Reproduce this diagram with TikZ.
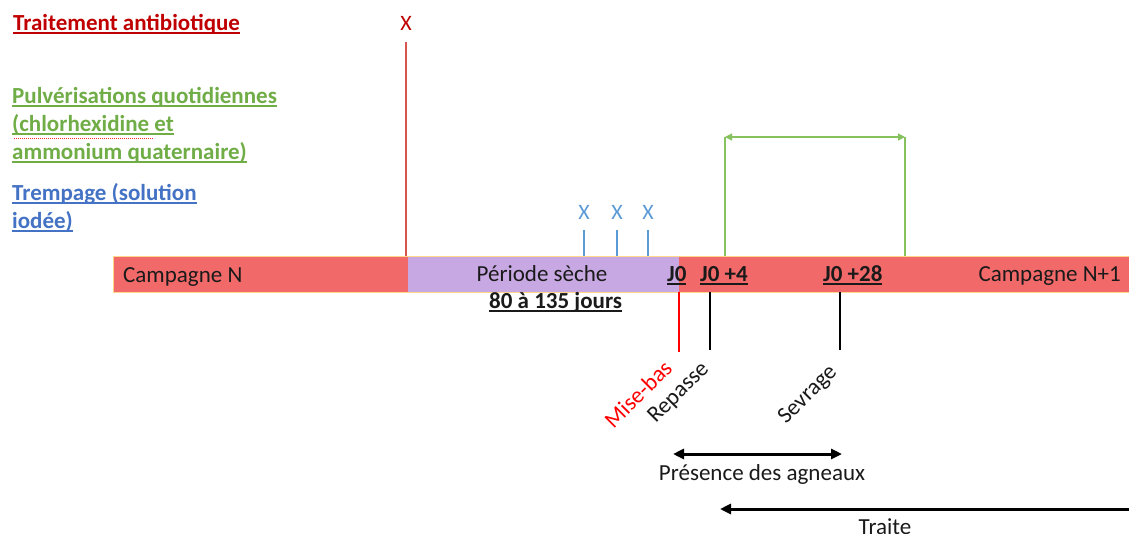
\documentclass[tikz,border=0pt]{standalone}
\usepackage{fontspec}
\setmainfont{Carlito}
\usetikzlibrary{arrows.meta}
\definecolor{barred}{HTML}{F26969}
\definecolor{barpurple}{HTML}{C8A8E2}
\definecolor{baredge}{HTML}{FFD68A}
\definecolor{darkred}{HTML}{C00000}
\definecolor{redline}{HTML}{D9534F}
\definecolor{lgreen}{HTML}{70AD47}
\definecolor{bgreen}{HTML}{86C25E}
\definecolor{lblue}{HTML}{4472C4}
\definecolor{xblue}{HTML}{5B9BD5}
\definecolor{ink}{HTML}{1A1A1A}
\newcommand\myul[1]{\setbox0\hbox{#1}\rlap{\rule[-3.5pt]{\wd0}{1.6pt}}\box0}
\begin{document}
\begin{tikzpicture}[x=1pt,y=-1pt,
  txt/.style={inner sep=0pt, font=\fontsize{23}{28}\selectfont, text=ink},
  legend/.style={inner sep=0pt, font=\fontsize{23}{28}\selectfont\bfseries, align=left},
  bar/.style={draw=baredge, line width=1pt},
  tick/.style={line width=2pt},
  bigarrow/.style={line width=3pt, {Triangle[length=11pt,width=10pt]}-{Triangle[length=11pt,width=10pt]}}
]
\clip (0,0) rectangle (1129,533);
\fill[white] (0,0) rectangle (1129,533);

% bar
\fill[barred] (113,256) rectangle (408,292);
\draw[bar] (113,256) rectangle (408,292);
\fill[barpurple] (408,256) rectangle (679,292);
\draw[bar] (408,256) -- (679,256) (408,292) -- (679,292);
\fill[barred] (679,256) rectangle (1140,292);
\draw[bar] (679,256) -- (1140,256) (679,292) -- (1140,292);

\node[txt, anchor=base west] (campN) at (123,282) {Campagne N};
\node[txt, anchor=base] (seche) at (542,281) {Période sèche};
\node[txt, anchor=base west, font=\fontsize{23}{28}\selectfont\bfseries] (j0) at (667,281) {\myul{J0}};
\node[txt, anchor=base west, font=\fontsize{23}{28}\selectfont\bfseries] (j4) at (700,281) {\myul{J0 +4}};
\node[txt, anchor=base west, font=\fontsize{23}{28}\selectfont\bfseries] (j28) at (823,281) {\myul{J0 +28}};
\node[txt, anchor=base east] (campN1) at (1121,281) {Campagne N+1};
\node[txt, anchor=base west, font=\fontsize{23}{28}\selectfont\bfseries] (jours) at (489,308) {\myul{80 à 135 jours}};

% legend
\node[legend, anchor=base west, text=darkred] (lab) at (13,30) {\myul{Traitement antibiotique}};
\node[legend, anchor=base west, text=lgreen] (lg1) at (12,103) {\myul{Pulvérisations quotidiennes}};
\node[legend, anchor=base west, text=lgreen] (lg2) at (12,131) {\myul{(chlorhexidine et}};
\node[legend, anchor=base west, text=lgreen] (lg3) at (12,159) {\myul{ammonium quaternaire)}};
\node[legend, anchor=base west, text=lblue] (lb1) at (12,200) {\myul{Trempage (solution}};
\node[legend, anchor=base west, text=lblue] (lb2) at (12,228) {\myul{iodée)}};
\draw[red!80, line width=0.8pt, dash pattern=on 1pt off 1pt] (14,138) -- (154,138);

% antibiotic
\node[txt, anchor=base, text=darkred, font=\fontsize{22}{28}\selectfont] (xab) at (406,30) {X};
\coordinate (abtop) at (406,42);
\coordinate (abbot) at (406,256);
\draw[redline, line width=1.5pt] (abtop) -- (abbot);

% dipping
\foreach \i/\x in {1/584,2/617,3/648}{
  \node[txt, anchor=base, text=xblue, font=\fontsize{22}{28}\selectfont] (xb\i) at (\x,219) {X};
  \coordinate (bt\i) at (\x,230);
  \coordinate (bb\i) at (\x,256);
  \draw[xblue, line width=1.3pt] (bt\i) -- (bb\i);
}

% spraying bracket
\coordinate (gl) at (725,256);
\coordinate (glt) at (725,137);
\coordinate (grt) at (905,137);
\coordinate (gr) at (905,256);
\draw[bgreen, line width=1.3pt] (gl) -- (glt);
\draw[bgreen, line width=1.3pt] (gr) -- (grt);
\draw[bgreen, line width=1.3pt, {Triangle[length=7pt,width=7pt]}-{Triangle[length=7pt,width=7pt]}] (glt) -- (grt);

% event ticks
\coordinate (mt) at (679,292); \coordinate (mb) at (679,352);
\coordinate (rt) at (710,292); \coordinate (rb) at (710,350);
\coordinate (st) at (840,292); \coordinate (sb) at (840,350);
\draw[tick, red] (mt) -- (mb);
\draw[tick, black] (rt) -- (rb);
\draw[tick, black] (st) -- (sb);
\node[txt, text=red, rotate=45, anchor=east] (mise) at (668,364) {Mise-bas};
\node[txt, rotate=45, anchor=east] (rep) at (706,366) {Repasse};
\node[txt, rotate=45, anchor=east] (sev) at (834,369) {Sevrage};

% arrows
\coordinate (pa) at (673,454);
\coordinate (pb) at (842,454);
\draw[bigarrow] (pa) -- (pb);
\node[txt, anchor=base] (pres) at (762,480) {Présence des agneaux};
\coordinate (ta) at (1140,509);
\coordinate (tb) at (720,509);
\draw[line width=3pt, -{Triangle[length=11pt,width=10pt]}] (ta) -- (tb);
\node[txt, anchor=base] (traite) at (885,534) {Traite};
\end{tikzpicture}
\end{document}
